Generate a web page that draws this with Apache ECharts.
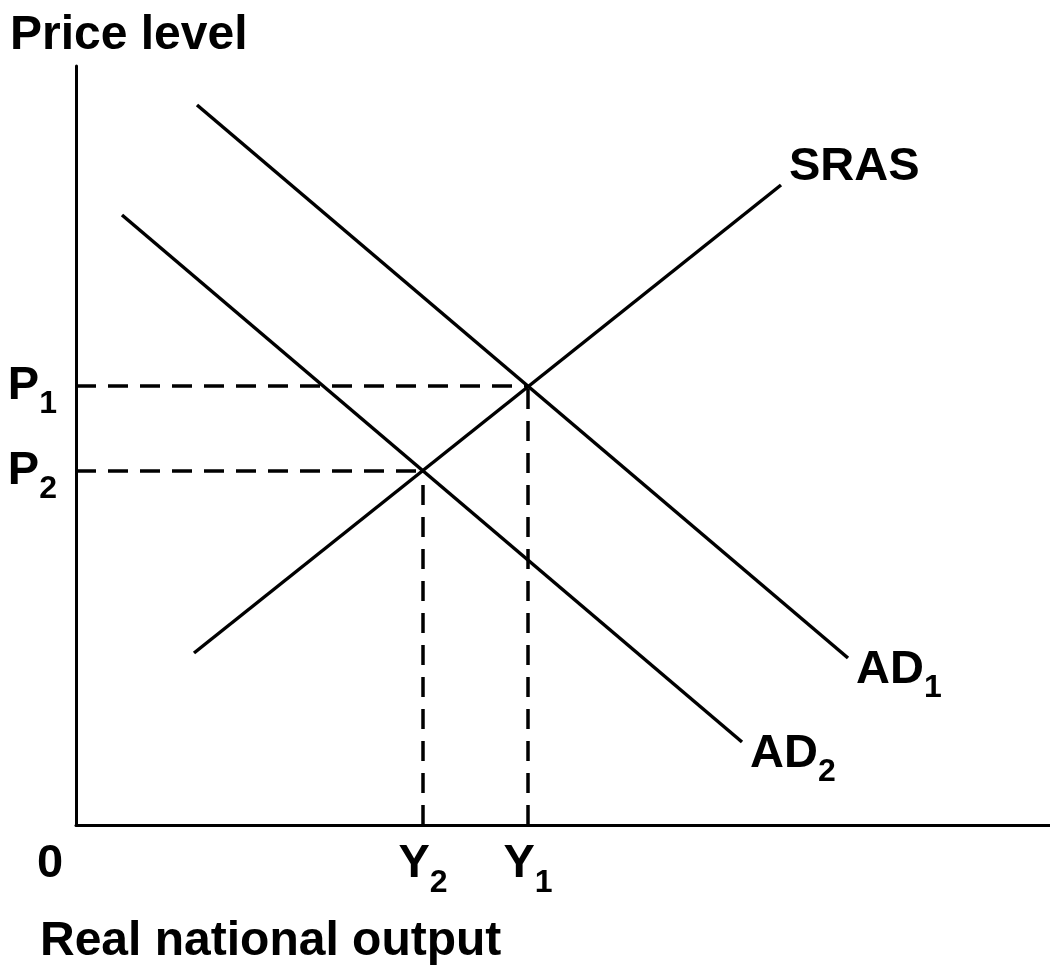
<!DOCTYPE html>
<html>
<head>
<meta charset="utf-8">
<style>
  html, body { margin: 0; padding: 0; background: #fff; }
  #chart { width: 1050px; height: 967px; }
</style>
<script src="https://cdn.jsdelivr.net/npm/echarts@6/dist/echarts.min.js"></script>
</head>
<body>
<div id="chart"></div>
<script>
// ---- data (output on x, price level on y, arbitrary units) ----
const ad1 = [[121, 720], [772, 167]];
const ad2 = [[46, 610], [666, 83]];
const sras = [[118, 172], [705, 640]];

const priceTicks = [439, 354];          // P1, P2
const priceNames = ['P1', 'P2'];
const outputTicks = [0, 347, 452];      // 0, Y2, Y1
const outputNames = ['0', 'Y2', 'Y1'];

const xMax = 974;
const yMax = 759;

const FONT = '"Liberation Sans", Arial, sans-serif';

const rich = {
    m: { fontSize: 47, fontWeight: 'bold', fontFamily: FONT, color: '#000', lineHeight: 51 },
    s: { fontSize: 32, fontWeight: 'bold', fontFamily: FONT, color: '#000', lineHeight: 14, padding: [37, 0, 0, 0] },
    z: { fontSize: 47, fontWeight: 'bold', fontFamily: FONT, color: '#000', lineHeight: 51, padding: [0, 52, 0, 0] }
};

// "P1" -> "{m|P}{s|1}"
function subText(name) {
    if (name.length < 2) return '{z|' + name + '}';
    return '{m|' + name.slice(0, -1) + '}{s|' + name.slice(-1) + '}';
}

function curve(name, data, labelOffset) {
    return {
        name: name,
        type: 'line',
        data: data,
        symbol: 'none',
        lineStyle: { color: '#000', width: 3.5 },
        endLabel: {
            show: true,
            formatter: () => subText(name),
            rich: rich,
            offset: labelOffset
        },
        silent: true
    };
}

function guide(data) {
    return {
        type: 'line',
        data: data,
        symbol: 'none',
        lineStyle: { color: '#000', width: 3.5, type: [20, 12] },
        silent: true
    };
}

const series = [
    curve('AD1', ad1, [0, 12]),
    curve('AD2', ad2, [0, 12]),
    {
        type: 'line',
        data: sras,
        symbol: 'none',
        lineStyle: { color: '#000', width: 3.5 },
        endLabel: {
            show: true,
            formatter: 'SRAS',
            fontSize: 47, fontWeight: 'bold', fontFamily: FONT, color: '#000',
            offset: [0, -18]
        },
        silent: true
    }
];

// dashed guides from the axes to each equilibrium
priceTicks.forEach((p, i) => {
    const y = outputTicks[outputTicks.length - 1 - i];
    series.push(guide([[0, p], [y, p]]));
    series.push(guide([[y, 0], [y, p]]));
});

const chart = echarts.init(document.getElementById('chart'));
chart.setOption({
    animation: false,
    backgroundColor: '#fff',
    grid: { left: 76, right: 0, top: 66, bottom: 142 },
    xAxis: {
        type: 'value', min: 0, max: xMax,
        axisLine: { lineStyle: { color: '#000', width: 3 } },
        axisTick: { show: false },
        splitLine: { show: false },
        axisLabel: {
            customValues: outputTicks,
            margin: 14,
            formatter: v => subText(outputNames[outputTicks.indexOf(v)]),
            rich: rich
        }
    },
    yAxis: {
        type: 'value', min: 0, max: yMax,
        axisLine: { lineStyle: { color: '#000', width: 3 } },
        axisTick: { show: false },
        splitLine: { show: false },
        axisLabel: {
            customValues: priceTicks,
            margin: 19,
            formatter: v => subText(priceNames[priceTicks.indexOf(v)]),
            rich: rich
        }
    },
    graphic: [
        { type: 'text', left: 10, top: 12, style: { text: 'Price level', font: 'bold 48px ' + FONT, fill: '#000' } },
        { type: 'text', left: 40, top: 918, style: { text: 'Real national output', font: 'bold 48px ' + FONT, fill: '#000' } }
    ],
    series: series
});
window.addEventListener('resize', () => chart.resize());
</script>
</body>
</html>
